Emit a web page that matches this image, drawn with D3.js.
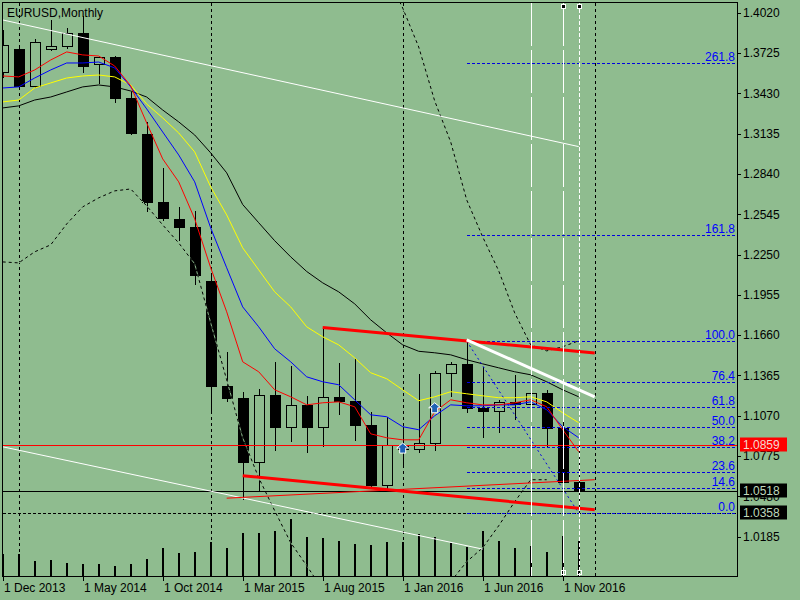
<!DOCTYPE html>
<html><head><meta charset="utf-8">
<script src="https://cdn.jsdelivr.net/npm/d3@7"></script>
<style>html,body{margin:0;padding:0;background:#8FBC8F;}svg{display:block;}</style>
</head><body>
<svg id="c" width="800" height="600"></svg>
<script>
// ---------- data ----------
const months = ["2013-12","2014-01","2014-02","2014-03","2014-04","2014-05","2014-06","2014-07","2014-08","2014-09","2014-10","2014-11","2014-12",
"2015-01","2015-02","2015-03","2015-04","2015-05","2015-06","2015-07","2015-08","2015-09","2015-10","2015-11","2015-12",
"2016-01","2016-02","2016-03","2016-04","2016-05","2016-06","2016-07","2016-08","2016-09","2016-10","2016-11","2016-12"];
const opens  = [1.3589,1.3752,1.3484,1.3757,1.3776,1.3874,1.3645,1.3698,1.3394,1.3130,1.2633,1.2511,1.2452,
1.2058,1.1289,1.1197,1.0731,1.1220,1.0988,1.1146,1.0985,1.1211,1.1177,1.1003,1.0564,
1.0857,1.0830,1.0872,1.1380,1.1452,1.1130,1.1103,1.1174,1.1157,1.1239,1.0981,1.0587];
const highs  = [1.3893,1.3775,1.3824,1.3967,1.3906,1.3993,1.3701,1.3700,1.3443,1.3222,1.2887,1.2600,1.2570,
1.2098,1.1534,1.1245,1.1265,1.1467,1.1436,1.1216,1.1714,1.1459,1.1495,1.1094,1.1060,
1.0986,1.1376,1.1396,1.1464,1.1616,1.1428,1.1185,1.1366,1.1327,1.1258,1.1300,1.0874];
const lows   = [1.3549,1.3478,1.3476,1.3750,1.3760,1.3586,1.3503,1.3367,1.3131,1.2571,1.2500,1.2358,1.2034,
1.1098,1.1175,1.0462,1.0520,1.0818,1.0888,1.0808,1.0848,1.1086,1.0895,1.0557,1.0523,
1.0710,1.0808,1.0822,1.1217,1.1098,1.0912,1.0952,1.1046,1.1122,1.0852,1.0518,1.0358];
const closes = [1.3780,1.3484,1.3803,1.3776,1.3874,1.3632,1.3694,1.3395,1.3138,1.2633,1.2521,1.2455,1.2098,
1.1289,1.1197,1.0731,1.1220,1.0988,1.1146,1.0985,1.1211,1.1177,1.1003,1.0564,1.0857,
1.0830,1.0872,1.1380,1.1452,1.1130,1.1103,1.1174,1.1157,1.1239,1.0981,1.0587,1.0518];
const volumes = [22000,22000,15000,16000,13000,12000,12000,10000,12000,17000,28000,23000,24000,
34000,28000,43000,43000,45000,57000,39000,38000,35000,32000,31000,34000,
34000,42000,39000,33000,29000,45000,35000,28000,30000,24000,40000,35000];

const maRed = [1.3557,1.3550,1.3601,1.3674,1.3733,1.3711,1.3703,1.3630,1.3484,1.3213,1.2950,1.2782,1.2511,
1.2153,1.1831,1.1465,1.1392,1.1260,1.1209,1.1150,1.1165,1.1172,1.1136,1.0938,1.0909,
1.0894,1.0894,1.1099,1.1187,1.1165,1.1150,1.1150,1.1165,1.1187,1.1136,1.0968,1.0807];
const maBlue = [1.3469,1.3477,1.3542,1.3601,1.3652,1.3652,1.3659,1.3616,1.3477,1.3316,1.3147,1.2979,1.2782,
1.2445,1.2153,1.1867,1.1721,1.1560,1.1465,1.1355,1.1319,1.1297,1.1187,1.1077,1.1063,
1.0990,1.0968,1.1070,1.1150,1.1143,1.1143,1.1150,1.1150,1.1172,1.1114,1.0990,1.0909];
const maYellow = [1.3367,1.3381,1.3469,1.3506,1.3542,1.3557,1.3564,1.3550,1.3491,1.3352,1.3250,1.3140,1.3001,
1.2745,1.2540,1.2299,1.2138,1.1977,1.1867,1.1721,1.1648,1.1589,1.1494,1.1385,1.1341,
1.1260,1.1180,1.1209,1.1246,1.1231,1.1216,1.1202,1.1202,1.1209,1.1172,1.1092,1.1019];
const maBlack = [1.3323,1.3338,1.3381,1.3403,1.3440,1.3477,1.3491,1.3477,1.3447,1.3403,1.3308,1.3221,1.3125,
1.2994,1.2848,1.2616,1.2483,1.2351,1.2233,1.2126,1.2043,1.1977,1.1889,1.1772,1.1677,
1.1589,1.1542,1.1531,1.1516,1.1480,1.1450,1.1421,1.1392,1.1370,1.1319,1.1260,1.1209];
const dashLower = [1.2196,1.2189,1.2270,1.2321,1.2474,1.2599,1.2665,1.2716,1.2730,1.2606,1.2467,1.2335,1.2182,
1.1750,1.1333,1.0909,1.0617,1.0375,1.0141,0.9973,0.9797,null,null,null,null,
null,null,null,0.9856,1.0002,1.0104,1.0265,1.0441,1.0602,1.0602,null,null];
const dashUpper = [null,null,null,null,null,null,null,null,null,null,null,null,null,
null,null,null,null,null,null,null,null,null,null,null,1.4300,
1.4054,1.3769,1.3374,1.3074,1.2650,1.2379,1.2131,1.1823,1.1589,1.1545,1.1575,1.1619];

const xTickBars = [0,5,10,15,20,25,30,35];
const xTickLabels = ["1 Dec 2013","1 May 2014","1 Oct 2014","1 Mar 2015","1 Aug 2015","1 Jan 2016","1 Jun 2016","1 Nov 2016"];
const yTicks = [1.4020,1.3725,1.3430,1.3135,1.2840,1.2545,1.2250,1.1955,1.1660,1.1365,1.1070,1.0775,1.0480,1.0185];
const separatorBars = [1,13,25,37];

const fibLevels = [0,14.6,23.6,38.2,50.0,61.8,76.4,100.0,161.8,261.8];
const fibLow = 1.0358, fibHigh = 1.1616, fibHighBar = 29, fibLowBar = 36;

const trendStartBar   = [0,     0,     20,    15,    14,    29];
const trendStartPrice = [1.3967,1.0843,1.1716,1.0631,1.0467,1.1626];
const trendEndBar     = [36,    30,    37,    37,    37,    37];
const trendEndPrice   = [1.3040,1.0094,1.1530,1.0382,1.0602,1.1209];

const vlineBars = [33,35,36];
const arrowBars = [25,27];
const arrowPrices = [1.0870,1.1165];

const hRed = 1.0859, hBid = 1.0518, hLow = 1.0358;
const title = "EURUSD,Monthly";

// ---------- layout ----------
const BG = "#8FBC8F";
const L = 2.5, R = 737.5, T = 2.5, B = 576.5;
const FONT = "Liberation Sans, Arial, sans-serif";
const svg = d3.select("#c");
svg.append("rect").attr("width",800).attr("height",600).attr("fill",BG);

const x = d3.scaleLinear().domain([0,36]).range([2.7,578.7]);
const y = d3.scaleLinear().domain([1.0185,1.4020]).range([536.7,12.7]);
const yv = d3.scaleLinear().domain([0,60000]).range([576,516]);
const cx = i => Math.round(x(i));

svg.append("clipPath").attr("id","clip").append("rect")
  .attr("x",L).attr("y",T).attr("width",R-L).attr("height",B-T);
const plot = svg.append("g").attr("clip-path","url(#clip)");

// period separators
plot.append("g").selectAll("line").data(separatorBars).join("line")
  .attr("x1",d=>cx(d)+0.5).attr("x2",d=>cx(d)+0.5).attr("y1",T).attr("y2",B)
  .attr("stroke","#000").attr("stroke-dasharray","3,3").attr("shape-rendering","crispEdges");

// volumes
plot.append("g").selectAll("rect").data(volumes).join("rect")
  .attr("x",(d,i)=>cx(i)-1).attr("width",2)
  .attr("y",d=>Math.round(yv(d))).attr("height",d=>576-Math.round(yv(d)))
  .attr("fill","#000").attr("shape-rendering","crispEdges");

// candles
const gC = plot.append("g").attr("shape-rendering","crispEdges");
gC.selectAll("line").data(months).join("line")
  .attr("x1",(d,i)=>cx(i)+0.5).attr("x2",(d,i)=>cx(i)+0.5)
  .attr("y1",(d,i)=>Math.round(y(highs[i]))).attr("y2",(d,i)=>Math.round(y(lows[i]))+1)
  .attr("stroke","#000");
gC.selectAll("rect").data(months).join("rect")
  .each(function(d,i){
    const o=opens[i], c=closes[i];
    const top=Math.round(y(Math.max(o,c))), bot=Math.round(y(Math.min(o,c)));
    const s=d3.select(this);
    if (c<o) {
      s.attr("x",cx(i)-5).attr("y",top).attr("width",11).attr("height",Math.max(bot-top,1)+1).attr("fill","#000");
    } else {
      s.attr("x",cx(i)-4.5).attr("y",top+0.5).attr("width",10).attr("height",Math.max(bot-top,1))
       .attr("fill",BG).attr("stroke","#000");
    }
  });

// moving averages
const ln = d3.line().x((d,i)=>x(i)).y(d=>y(d)).defined(d=>d!=null);
[[maBlack,"#000"],[maYellow,"#FFFF00"],[maBlue,"#0000FF"],[maRed,"#FF0000"]].forEach(([arr,col])=>{
  plot.append("path").attr("d",ln(arr)).attr("fill","none").attr("stroke",col).attr("stroke-width",1);
});
// dashed curves (opaque gaps)
[dashLower,dashUpper].forEach(arr=>{
  plot.append("path").attr("d",ln(arr)).attr("fill","none").attr("stroke",BG).attr("stroke-width",1);
  plot.append("path").attr("d",ln(arr)).attr("fill","none").attr("stroke","#000").attr("stroke-width",1).attr("stroke-dasharray","3,3");
});

// horizontal lines
const hl = (p,col,dash)=>{
  const yy = Math.round(y(p))+0.5;
  const l = plot.append("line").attr("x1",L).attr("x2",R).attr("y1",yy).attr("y2",yy)
    .attr("stroke",col).attr("stroke-width",1).attr("shape-rendering","crispEdges");
  if (dash) l.attr("stroke-dasharray",dash);
};
hl(hBid,"#000");
hl(hLow,"#000","3,2");

// fibonacci
const fibPrice = lv => fibLow + (fibHigh-fibLow)*lv/100;
const gF = plot.append("g");
gF.selectAll("line").data(fibLevels).join("line")
  .attr("x1",x(fibHighBar)).attr("x2",R)
  .attr("y1",d=>Math.round(y(fibPrice(d)))+0.5).attr("y2",d=>Math.round(y(fibPrice(d)))+0.5)
  .attr("stroke","#0000E0").attr("stroke-dasharray","3,2").attr("shape-rendering","crispEdges");
gF.selectAll("text").data(fibLevels).join("text")
  .attr("x",735).attr("y",d=>Math.round(y(fibPrice(d)))-2.5)
  .attr("text-anchor","end").attr("font-family",FONT).attr("font-size",12).attr("fill","#0000FF")
  .text(d=>d.toFixed(1));
plot.append("line").attr("x1",x(fibHighBar)).attr("y1",y(fibHigh)).attr("x2",x(fibLowBar)).attr("y2",y(fibLow))
  .attr("stroke","#0000E0").attr("stroke-dasharray","2,3");

// trend lines
const trendColor = ["#FFFFFF","#FFFFFF","#FF0000","#FF0000","#FF0000","#FFFFFF"];
const trendWidth = [1,1,3,3,1,3];
trendStartBar.forEach((b,k)=>{
  plot.append("line").attr("x1",x(b)).attr("y1",y(trendStartPrice[k]))
    .attr("x2",x(trendEndBar[k])).attr("y2",y(trendEndPrice[k]))
    .attr("stroke",trendColor[k]).attr("stroke-width",trendWidth[k]);
});

// red horizontal level
hl(hRed,"#FF0000");

// vertical lines
const vDash = ["43,4","43,4","4,2"];
vlineBars.forEach((b,k)=>{
  plot.append("line").attr("x1",cx(b)+0.5).attr("x2",cx(b)+0.5).attr("y1",T).attr("y2",B)
    .attr("stroke","#FFF").attr("stroke-dasharray",vDash[k]).attr("shape-rendering","crispEdges");
  if (k>0) {
    plot.append("rect").attr("x",cx(b)-1.5).attr("y",4.5).attr("width",4).attr("height",4)
      .attr("fill","#000").attr("stroke","#FFF").attr("shape-rendering","crispEdges");
    plot.append("rect").attr("x",cx(b)-1.5).attr("y",570.5).attr("width",4).attr("height",4)
      .attr("fill","none").attr("stroke","#FFF").attr("shape-rendering","crispEdges");
  }
});

// arrows
arrowBars.forEach((b,k)=>{
  const ax = x(b), ty = y(arrowPrices[k]);
  plot.append("path")
    .attr("d",`M${ax},${ty} L${ax+6},${ty+5} L${ax+3},${ty+5} L${ax+3},${ty+10} L${ax-3},${ty+10} L${ax-3},${ty+5} L${ax-6},${ty+5} Z`)
    .attr("fill","#1F62B5").attr("stroke","#FFFFFF").attr("stroke-width",1);
});

// frame
svg.append("rect").attr("x",L).attr("y",T).attr("width",R-L).attr("height",B-T)
  .attr("fill","none").attr("stroke","#000").attr("shape-rendering","crispEdges");

// y axis
const gY = svg.append("g");
gY.selectAll("line").data(yTicks).join("line")
  .attr("x1",R).attr("x2",741).attr("y1",d=>Math.round(y(d))+0.5).attr("y2",d=>Math.round(y(d))+0.5)
  .attr("stroke","#000").attr("shape-rendering","crispEdges");
gY.selectAll("text").data(yTicks).join("text")
  .attr("x",743).attr("y",d=>y(d)).attr("dy","0.36em")
  .attr("font-family",FONT).attr("font-size",12).attr("fill","#000")
  .text(d=>d.toFixed(4));

// x axis
const gX = svg.append("g");
gX.selectAll("line").data(xTickBars).join("line")
  .attr("x1",d=>cx(d)+0.5).attr("x2",d=>cx(d)+0.5).attr("y1",B).attr("y2",581)
  .attr("stroke","#000").attr("shape-rendering","crispEdges");
gX.selectAll("text").data(xTickBars).join("text")
  .attr("x",d=>cx(d)+1).attr("y",592)
  .attr("font-family",FONT).attr("font-size",12).attr("fill","#000")
  .text((d,i)=>xTickLabels[i]);

// price tags
const tag = (p,bg,fg)=>{
  const yy = Math.round(y(p));
  svg.append("rect").attr("x",740).attr("y",yy-7.5).attr("width",47).attr("height",14).attr("fill",bg);
  svg.append("text").attr("x",743).attr("y",yy-0.5).attr("dy","0.36em")
    .attr("font-family",FONT).attr("font-size",12).attr("fill",fg).text(p.toFixed(4));
};
tag(hRed,"#FF0000","#F4D8D0");
tag(hBid,"#000000","#BFD8BC");
tag(hLow,"#000000","#BFD8BC");

// title
svg.append("text").attr("x",7).attr("y",16.5).attr("font-family",FONT).attr("font-size",12)
  .attr("fill","#000").text(title);
</script>
</body></html>
